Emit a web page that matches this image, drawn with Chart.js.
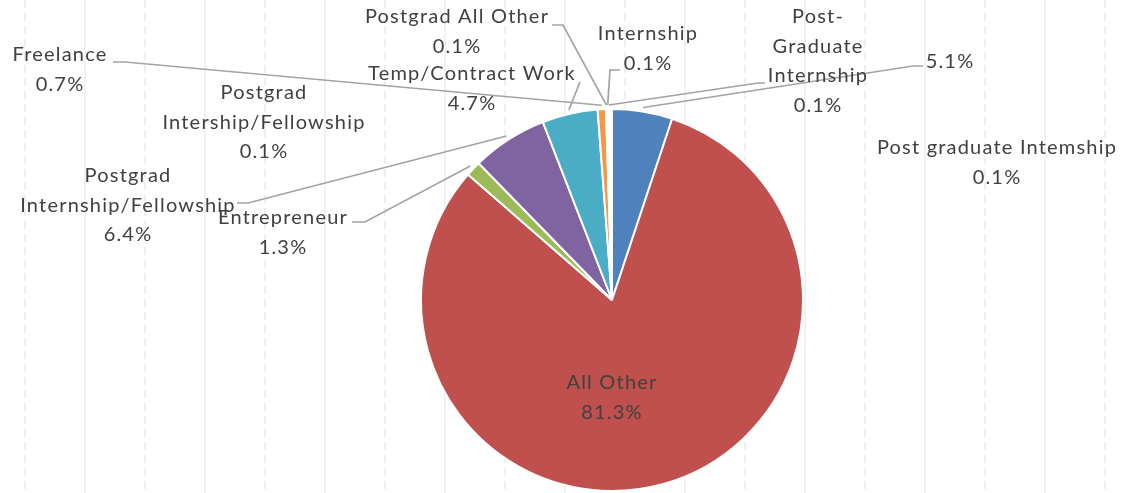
<!DOCTYPE html>
<html>
<head>
<meta charset="utf-8">
<script src="https://cdn.jsdelivr.net/npm/chart.js@4/dist/chart.umd.min.js"></script>
<style>
  html, body { margin: 0; padding: 0; background: #fff; }
  #wrap { width: 1125px; height: 493px; position: relative; }
</style>
</head>
<body>
<div id="wrap"><canvas id="chart-pie"></canvas></div>
<script>
const CATEGORIES = [
  '', 'All Other', 'Entrepreneur', 'Postgrad Internship/Fellowship', 'Temp/Contract Work',
  'Freelance', 'Postgrad All Other', 'Internship', 'Post-Graduate Internship',
  'Postgrad Intership/Fellowship', 'Post graduate Intemship'
];
const SHARES = [5.1, 81.3, 1.3, 6.4, 4.7, 0.7, 0.1, 0.1, 0.1, 0.1, 0.1];
const COLORS = [
  '#4F81BD', '#C0504D', '#9BBB59', '#8064A2', '#4BACC6', '#F79646',
  '#2C4D75', '#772C2A', '#5F7530', '#4D3B62', '#276A7C'
];

// where Excel left each data label (x centre, first line y) and its leader elbow
const LABEL_LAYOUT = [
  { x: 950, y: 62,  leader: [[913, 66], [923, 66]] },
  { x: 612, y: 383 },
  { x: 283, y: 218, leader: [[365, 222], [352, 222]] },
  { x: 128, y: 176, wrap: ['Postgrad', 'Internship/Fellowship'], leader: [[248, 203], [237, 203]] },
  { x: 472, y: 74,  leader: [[580, 82]] },
  { x: 60,  y: 55,  leader: [[125, 62], [113, 62]] },
  { x: 457, y: 17,  leader: [[563, 25], [552, 25]] },
  { x: 648, y: 34,  leader: [[610, 70], [620, 70]] },
  { x: 818, y: 17,  wrap: ['Post-', 'Graduate', 'Internship'], leader: [[758, 83], [765, 83]] },
  { x: 264, y: 93,  wrap: ['Postgrad', 'Intership/Fellowship'] },
  { x: 997, y: 148 }
];

const FONT = '20px Lato, "Open Sans", sans-serif';
const LINE_H = 29.5;

// faint vertical rules behind the pie, solid and dashed in turn
const backgroundRules = {
  id: 'backgroundRules',
  beforeDatasetsDraw(chart) {
    const ctx = chart.ctx;
    ctx.save();
    ctx.lineWidth = 2;
    for (let k = 0, x = 25; x < chart.width; k++, x += 60) {
      ctx.strokeStyle = k % 2 ? '#F1F1F1' : '#EFEFEF';
      ctx.setLineDash(k % 2 ? [] : [8, 5]);
      ctx.beginPath();
      ctx.moveTo(x, 0);
      ctx.lineTo(x, chart.height);
      ctx.stroke();
    }
    ctx.restore();
  }
};

function labelLines(i) {
  const lay = LABEL_LAYOUT[i];
  const name = lay.wrap || (CATEGORIES[i] ? [CATEGORIES[i]] : []);
  return [...name, SHARES[i].toFixed(1) + '%'];
}

const dataLabels = {
  id: 'dataLabels',
  afterDatasetsDraw(chart) {
    const ctx = chart.ctx;
    const arcs = chart.getDatasetMeta(0).data;
    ctx.save();

    // leader lines from the slice rim to the label
    ctx.strokeStyle = '#A3A3A3';
    ctx.lineWidth = 1.7;
    arcs.forEach((arc, i) => {
      const lay = LABEL_LAYOUT[i];
      if (!lay.leader) return;
      const mid = (arc.startAngle + arc.endAngle) / 2;
      const r = arc.outerRadius + 4;
      ctx.beginPath();
      ctx.moveTo(arc.x + Math.cos(mid) * r, arc.y + Math.sin(mid) * r);
      lay.leader.forEach(([px, py]) => ctx.lineTo(px, py));
      ctx.stroke();
    });

    ctx.font = FONT;
    ctx.letterSpacing = '1.2px';
    ctx.fillStyle = '#404040';
    ctx.textAlign = 'center';
    ctx.textBaseline = 'middle';
    arcs.forEach((arc, i) => {
      const lay = LABEL_LAYOUT[i];
      labelLines(i).forEach((t, j) => ctx.fillText(t, lay.x, lay.y + j * LINE_H));
    });
    ctx.restore();
  }
};

function buildPie() {
  const ctx = document.getElementById('chart-pie').getContext('2d');
  new Chart(ctx, {
    type: 'pie',
    data: {
      labels: CATEGORIES,
      datasets: [{
        data: SHARES,
        backgroundColor: COLORS,
        borderColor: '#fff',
        borderWidth: 2,
      }]
    },
    options: {
      responsive: true,
      maintainAspectRatio: false,
      animation: false,
      layout: { padding: { left: 420, right: 321, top: 108, bottom: 1 } },
      plugins: {
        legend: { display: false },
        tooltip: { enabled: false }
      }
    },
    plugins: [backgroundRules, dataLabels]
  });
}

buildPie();
</script>
</body>
</html>
